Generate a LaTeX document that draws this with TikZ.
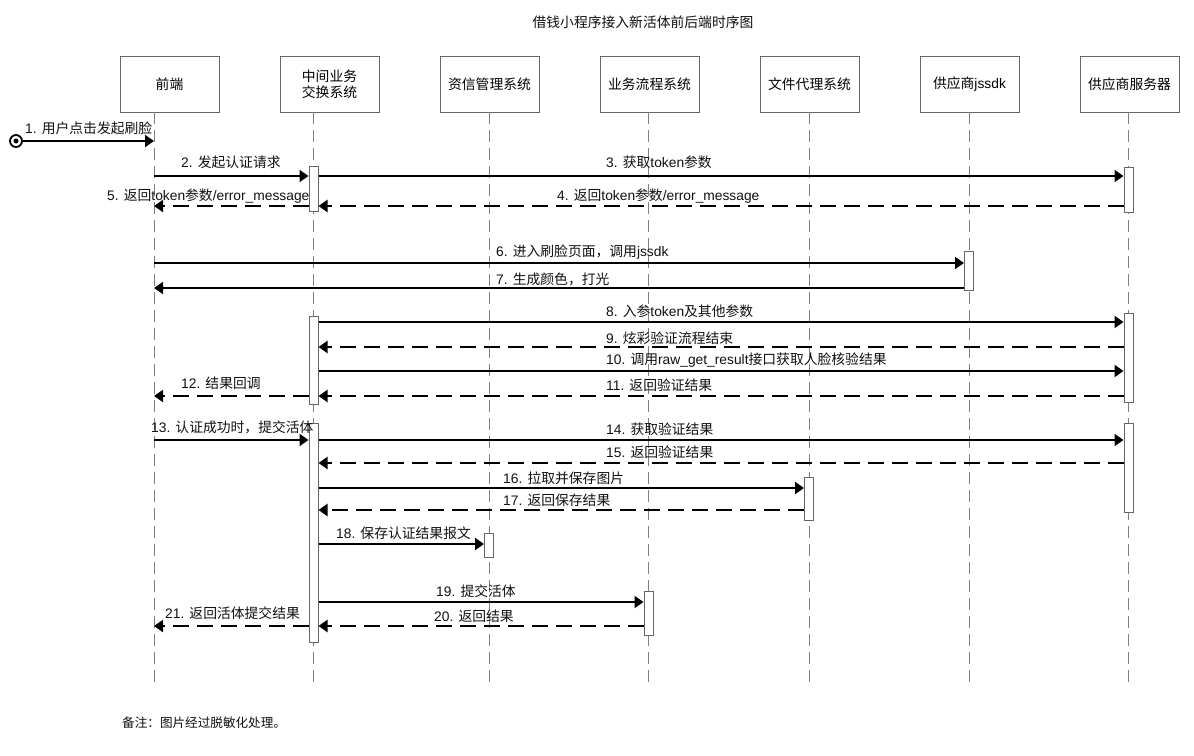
\documentclass[tikz,border=0pt]{standalone}
\usepackage{fontspec}
\usetikzlibrary{arrows.meta}
\setmainfont{Liberation Sans}
\newfontfamily\cjkfont{Noto Sans CJK SC}
\newfontfamily\latfont{Liberation Sans}
\XeTeXinterchartokenstate=1
\newXeTeXintercharclass\cjkcls
\count255="3000
\loop
  \XeTeXcharclass\count255=\cjkcls
  \ifnum\count255<"9FFF \advance\count255 by 1 \repeat
\count255="FF00
\loop
  \XeTeXcharclass\count255=\cjkcls
  \ifnum\count255<"FFEF \advance\count255 by 1 \repeat
\XeTeXinterchartoks 0 \cjkcls = {\cjkfont}
\XeTeXinterchartoks 4095 \cjkcls = {\cjkfont}
\XeTeXinterchartoks \cjkcls 0 = {\latfont}
\XeTeXinterchartoks \cjkcls 4095 = {\latfont}
\definecolor{boxgray}{HTML}{666666}
\definecolor{lifegray}{HTML}{808080}
\definecolor{txt}{HTML}{111111}
\tikzset{
 hdr/.style={draw=boxgray, line width=1pt, minimum width=99pt, minimum height=56pt, inner sep=2pt, align=center, fill=white},
 act/.style={draw=boxgray, line width=1pt, fill=white, minimum width=9pt, inner sep=0pt},
 life/.style={draw=lifegray, line width=0.8pt, dash pattern=on 12pt off 6pt},
 msg/.style={line width=2pt, -{Triangle[length=9pt,width=12pt]}},
 ret/.style={msg, dash pattern=on 16pt off 8pt},
 lbl/.style={anchor=west, inner sep=0pt, text=txt},
}
\begin{document}
\begin{tikzpicture}[x=1pt,y=-1pt, font=\fontsize{13.8}{16}\selectfont]
\useasboundingbox (0,0) rectangle (1194,755);
\fill[white] (0,0) rectangle (1194,755);
% title
\node[text=txt] (title) at (643,22) {借钱小程序接入新活体前后端时序图};
% headers
\node[hdr] (h1) at (169.5,84) {前端};
\node[hdr] (h2) at (329.5,84) {中间业务\\交换系统};
\node[hdr] (h3) at (489.5,84) {资信管理系统};
\node[hdr] (h4) at (649.5,84) {业务流程系统};
\node[hdr] (h5) at (809.5,84) {文件代理系统};
\node[hdr] (h6) at (969.5,84) {供应商jssdk};
\node[hdr] (h7) at (1129.5,84) {供应商服务器};
% lifelines
\coordinate (l1t) at (154,112); \coordinate (l1b) at (154,683);
\coordinate (l2t) at (313.5,112); \coordinate (l2b) at (313.5,683);
\coordinate (l3t) at (489,112); \coordinate (l3b) at (489,683);
\coordinate (l4t) at (648.5,112); \coordinate (l4b) at (648.5,683);
\coordinate (l5t) at (809,112); \coordinate (l5b) at (809,683);
\coordinate (l6t) at (969,112); \coordinate (l6b) at (969,683);
\coordinate (l7t) at (1128.5,112); \coordinate (l7b) at (1128.5,683);
\foreach \i in {1,...,7} {\draw[life] (l\i t) -- (l\i b);}
% activations
\node[act, minimum height=45pt] (a2a) at (313.5,188.5) {};
\node[act, minimum height=45pt] (a7a) at (1128.5,189.5) {};
\node[act, minimum height=39pt] (a6) at (969,270.5) {};
\node[act, minimum height=88pt] (a2b) at (313.5,360) {};
\node[act, minimum height=89pt] (a7b) at (1128.5,357.5) {};
\node[act, minimum height=219pt] (a2c) at (313.5,532.5) {};
\node[act, minimum height=89pt] (a7c) at (1128.5,467.5) {};
\node[act, minimum height=43pt] (a5) at (809,498.5) {};
\node[act, minimum height=24pt] (a3) at (489,545) {};
\node[act, minimum height=44pt] (a4) at (648.5,613) {};
% start
\node[circle, draw, line width=1.8pt, minimum size=12pt, inner sep=0pt] (s1) at (16,141) {};
\fill (s1.center) circle (2.5pt);
% messages
\draw[msg] (s1.east) -- (154,141 |- s1);
\draw[msg] (l1t |- 0,176) -- (a2a.west |- 0,176);
\draw[msg] (a2a.east |- 0,176) -- (a7a.west |- 0,176);
\draw[ret] (a7a.west |- 0,206) -- (a2a.east |- 0,206);
\draw[ret] (a2a.west |- 0,206) -- (l1t |- 0,206);
\draw[msg] (l1t |- 0,263) -- (a6.west |- 0,263);
\draw[msg] (a6.west |- 0,288) -- (l1t |- 0,288);
\draw[msg] (a2b.east |- 0,322) -- (a7b.west |- 0,322);
\draw[ret] (a7b.west |- 0,347) -- (a2b.east |- 0,347);
\draw[msg] (a2b.east |- 0,371) -- (a7b.west |- 0,371);
\draw[ret] (a7b.west |- 0,396) -- (a2b.east |- 0,396);
\draw[ret] (a2b.west |- 0,396) -- (l1t |- 0,396);
\draw[msg] (l1t |- 0,440) -- (a2c.west |- 0,440);
\draw[msg] (a2c.east |- 0,440) -- (a7c.west |- 0,440);
\draw[ret] (a7c.west |- 0,463) -- (a2c.east |- 0,463);
\draw[msg] (a2c.east |- 0,488) -- (a5.west |- 0,488);
\draw[ret] (a5.west |- 0,510) -- (a2c.east |- 0,510);
\draw[msg] (a2c.east |- 0,544) -- (a3.west |- 0,544);
\draw[msg] (a2c.east |- 0,602) -- (a4.west |- 0,602);
\draw[ret] (a4.west |- 0,626) -- (a2c.east |- 0,626);
\draw[ret] (a2c.west |- 0,626) -- (l1t |- 0,626);
% labels
\node[lbl] (t1) at (25,128) {1. 用户点击发起刷脸};
\node[lbl] (t2) at (181,162) {2. 发起认证请求};
\node[lbl] (t3) at (606,162) {3. 获取token参数};
\node[lbl] (t4) at (557,196) {4. 返回token参数/error\_message};
\node[lbl] (t5) at (107,196) {5. 返回token参数/error\_message};
\node[lbl] (t6) at (496,252) {6. 进入刷脸页面，调用jssdk};
\node[lbl] (t7) at (496,279) {7. 生成颜色，打光};
\node[lbl] (t8) at (606,311) {8. 入参token及其他参数};
\node[lbl] (t9) at (606,338) {9. 炫彩验证流程结束};
\node[lbl] (t10) at (606,360) {10. 调用raw\_get\_result接口获取人脸核验结果};
\node[lbl] (t11) at (606,385) {11. 返回验证结果};
\node[lbl] (t12) at (181,383) {12. 结果回调};
\node[lbl] (t13) at (151,427) {13. 认证成功时，提交活体};
\node[lbl] (t14) at (606,429) {14. 获取验证结果};
\node[lbl] (t15) at (606,452) {15. 返回验证结果};
\node[lbl] (t16) at (503,478) {16. 拉取并保存图片};
\node[lbl] (t17) at (503,500) {17. 返回保存结果};
\node[lbl] (t18) at (336,533) {18. 保存认证结果报文};
\node[lbl] (t19) at (436,591) {19. 提交活体};
\node[lbl] (t20) at (434,616) {20. 返回结果};
\node[lbl] (t21) at (165,613) {21. 返回活体提交结果};
% note
\node[lbl, font=\fontsize{12.6}{15}\selectfont] (note) at (122,723) {备注：图片经过脱敏化处理。};
\end{tikzpicture}
\end{document}
